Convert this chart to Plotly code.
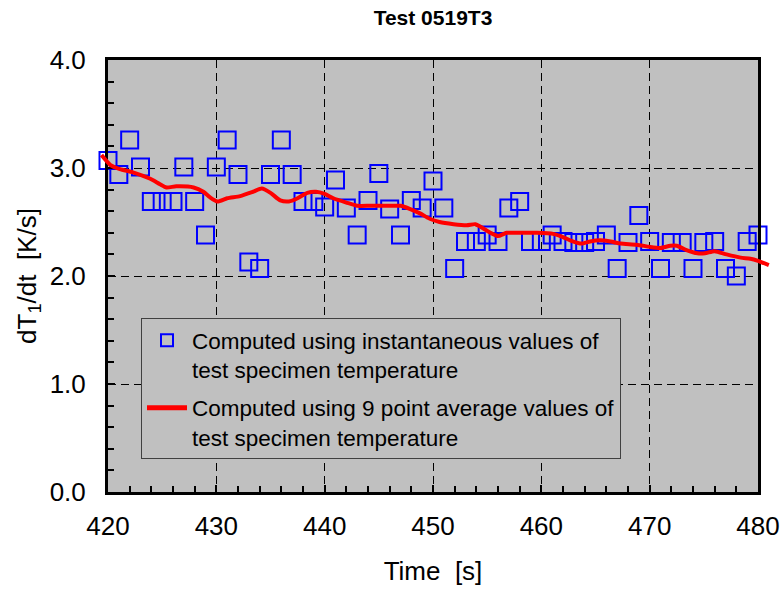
import plotly.graph_objects as go

# Instantaneous heating-rate samples (one per second)
time_s = list(range(420, 481))
rate_inst = [
    3.07, 2.94, 3.26, 3.01, 2.69, 2.69, 2.69, 3.01, 2.69, 2.38,
    3.01, 3.26, 2.94, 2.13, 2.07, 2.94, 3.26, 2.94, 2.69, 2.69,
    2.64, 2.89, 2.63, 2.38, 2.70, 2.95, 2.62, 2.38, 2.70, 2.63,
    2.88, 2.63, 2.07, 2.32, 2.32, 2.38, 2.32, 2.63, 2.69, 2.32,
    2.32, 2.38, 2.32, 2.31, 2.31, 2.32, 2.38, 2.07, 2.31, 2.56,
    2.32, 2.07, 2.31, 2.31, 2.07, 2.31, 2.32, 2.07, 2.00, 2.32,
    2.38,
]

# 9-point averaged heating rate
time_avg = [
    419.4, 420.2, 421.1, 422.3, 423.9, 424.8, 425.4, 426.3, 427.9, 428.8,
    429.4, 430.1, 431.0, 432.2, 433.4, 434.2, 435.0, 435.9, 436.7, 437.5,
    438.4, 439.2, 440.0, 440.8, 442.0, 443.0, 444.2, 445.7, 447.0, 447.9,
    448.8, 449.7, 450.6, 451.9, 453.1, 453.9, 454.3, 455.3, 456.0, 456.8,
    458.0, 459.6, 461.1, 462.0, 462.9, 463.7, 464.5, 465.4, 466.4, 467.3,
    468.8, 470.0, 471.0, 471.9, 472.5, 473.4, 474.4, 475.1, 476.0, 477.1,
    478.4, 479.3, 480.0, 481.0,
]
rate_avg = [
    3.12, 3.03, 2.99, 2.96, 2.90, 2.85, 2.82, 2.83, 2.82, 2.78,
    2.73, 2.69, 2.72, 2.74, 2.78, 2.81, 2.77, 2.70, 2.69, 2.72,
    2.77, 2.78, 2.76, 2.72, 2.68, 2.65, 2.65, 2.65, 2.65, 2.62,
    2.58, 2.53, 2.50, 2.48, 2.47, 2.48, 2.46, 2.40, 2.37, 2.40,
    2.40, 2.40, 2.39, 2.36, 2.32, 2.30, 2.32, 2.33, 2.32, 2.30,
    2.29, 2.27, 2.26, 2.28, 2.28, 2.24, 2.21, 2.21, 2.23, 2.20,
    2.17, 2.16, 2.14, 2.10,
]

X_RANGE = [420, 480]
Y_RANGE = [0, 4]
X_TICKS = [420, 430, 440, 450, 460, 470, 480]
Y_TICKS = [0, 1, 2, 3, 4]

FONT = "Liberation Sans, Arial, sans-serif"
BG = "#c0c0c0"

# Page geometry (pixels)
FIG_W, FIG_H = 783, 592
M_L, M_R, M_T, M_B = 92, 12, 60, 100
FRAME_L, FRAME_R = 108, 758
area_w = FIG_W - M_L - M_R
area_h = FIG_H - M_T - M_B
main_dom = [(FRAME_L - M_L) / area_w, (FRAME_R - M_L) / area_w]
# a wider, hidden x axis with identical scale lets the averaged curve run past the frame
s_per_px = (X_RANGE[1] - X_RANGE[0]) / (FRAME_R - FRAME_L)
wide_range = [X_RANGE[0] - (FRAME_L - M_L) * s_per_px,
              X_RANGE[1] + (FIG_W - M_R - FRAME_R) * s_per_px]

fig = go.Figure()

fig.add_trace(go.Scatter(
    x=time_s, y=rate_inst, mode="markers",
    name="Computed using instantaneous values of\u00a0\u00a0<br>test specimen temperature",
    marker=dict(symbol="square-open", size=17, color="#0000ff",
                line=dict(width=2, color="#0000ff")),
    cliponaxis=False, legendgroup="a",
))

fig.add_trace(go.Scatter(
    x=time_avg, y=rate_avg, mode="lines",
    name="Computed using 9 point average values of<br>test specimen temperature",
    line=dict(color="#ff0000", width=4, shape="spline", smoothing=0.6),
    xaxis="x2", yaxis="y2", legendgroup="b",
))

tick_font = dict(family=FONT, size=26, color="black")
title_font = dict(family=FONT, size=26, color="black")
common = dict(
    showline=True, linewidth=3, linecolor="black", mirror=True,
    ticks="inside", ticklen=7, tickwidth=2, tickcolor="black",
    showgrid=True, gridcolor="black", gridwidth=1, griddash="8px,5px",
    zeroline=False, tickfont=tick_font, automargin=False,
)

fig.update_layout(
    width=FIG_W, height=FIG_H,
    margin=dict(l=M_L, r=M_R, t=M_T, b=M_B, autoexpand=False),
    paper_bgcolor="white", plot_bgcolor="rgba(0,0,0,0)",
    title=dict(text="<b>Test 0519T3</b>",
               x=(FRAME_L + FRAME_R) / 2 / FIG_W, xref="container", xanchor="center",
               y=1 - 18 / FIG_H, yref="container", yanchor="middle",
               font=dict(family=FONT, size=21, color="black")),
    xaxis=dict(
        domain=main_dom, range=X_RANGE, tickvals=X_TICKS, anchor="y",
        minor=dict(dtick=2, ticks="inside", ticklen=6, tickwidth=2,
                   tickcolor="black", showgrid=False),
        title=dict(text="Time\u00a0 [s]", font=title_font, standoff=22),
        ticklabelstandoff=9,
        **common,
    ),
    yaxis=dict(
        domain=[0, 1], range=Y_RANGE, tickvals=Y_TICKS, tickformat=".1f", anchor="x",
        minor=dict(dtick=0.2, ticks="inside", ticklen=6, tickwidth=2,
                   tickcolor="black", showgrid=False),
        title=dict(text="dT<sub>1</sub>/dt\u00a0 [K/s]", font=title_font, standoff=6),
        ticklabelstandoff=14,
        **common,
    ),
    xaxis2=dict(domain=[0, 1], range=wide_range, anchor="y2", visible=False,
                showgrid=False, zeroline=False),
    yaxis2=dict(domain=[0, 1], range=Y_RANGE, anchor="x2", visible=False,
                showgrid=False, zeroline=False),
    legend=dict(
        x=(141 - M_L) / area_w, y=(FIG_H - M_B - 318) / area_h,
        xanchor="left", yanchor="top",
        bgcolor=BG, bordercolor="#404040", borderwidth=1,
        font=dict(family=FONT, size=22.5, color="black"),
        itemsizing="constant", itemwidth=40, valign="top",
        traceorder="grouped", tracegroupgap=6,
    ),
    showlegend=True,
    shapes=[dict(type="rect", xref="x domain", yref="y domain",
                 x0=0, x1=1, y0=0, y1=1, fillcolor=BG,
                 line=dict(width=0), layer="below")],
)

fig.write_html("out.html")
